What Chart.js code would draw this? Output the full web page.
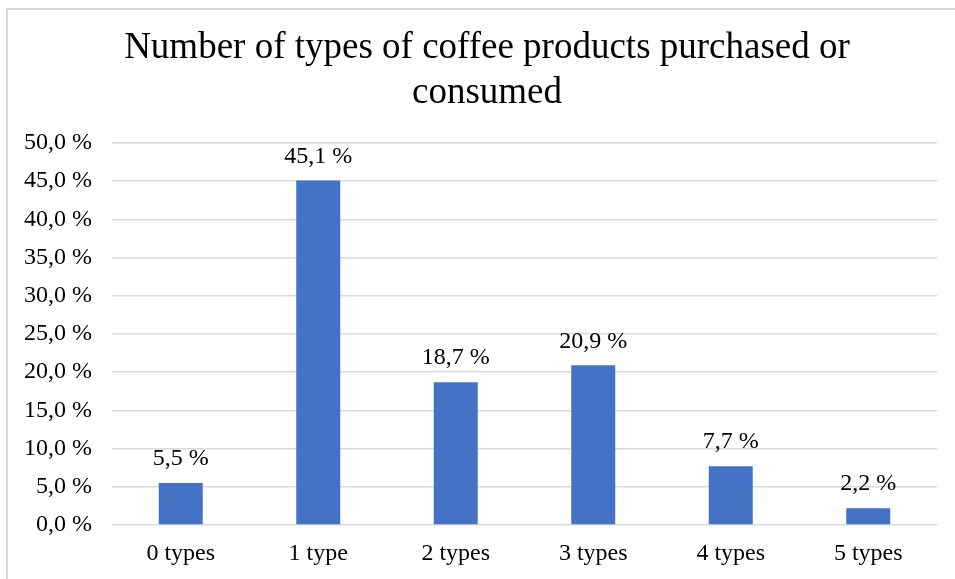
<!DOCTYPE html>
<html>
<head>
<meta charset="utf-8">
<script src="https://cdn.jsdelivr.net/npm/chart.js@4"></script>
<style>
  html, body { margin: 0; padding: 0; background: #fff; overflow: hidden; }
  #wrap { width: 955px; height: 579px; }
</style>
</head>
<body>
<div id="wrap"><canvas id="coffeeChart" width="955" height="579"></canvas></div>
<script>
// ================================
// DATA
// ================================

const categories = ["0 types", "1 type", "2 types", "3 types", "4 types", "5 types"];
const shares = [5.5, 45.1, 18.7, 20.9, 7.7, 2.2];
const titleLines = ["Number of types of coffee products purchased or", "consumed"];

const FONT = "'Liberation Serif', 'Times New Roman', serif";

const pct = v => v.toFixed(1).replace(".", ",") + " %";

// ================================
// PLUGINS
// ================================

// outer frame + title
const frameAndTitle = {
    id: "frameAndTitle",
    beforeDraw(chart) {
        const c = chart.ctx;
        c.save();
        c.fillStyle = "#fff";
        c.fillRect(0, 0, chart.width, chart.height);
        c.strokeStyle = "#d9d9d9";
        c.lineWidth = 2;
        c.beginPath();
        c.moveTo(7, chart.height);
        c.lineTo(7, 9);
        c.lineTo(chart.width, 9);
        c.stroke();
        c.fillStyle = "#000";
        c.font = "37px " + FONT;
        c.textAlign = "center";
        c.textBaseline = "middle";
        c.fillText(titleLines[0], 487, 48);
        c.fillText(titleLines[1], 487, 93);
        c.restore();
    }
};

// value labels above each bar
const valueLabels = {
    id: "valueLabels",
    afterDatasetsDraw(chart) {
        const c = chart.ctx;
        const meta = chart.getDatasetMeta(0);
        c.save();
        c.fillStyle = "#000";
        c.font = "24px " + FONT;
        c.textAlign = "center";
        c.textBaseline = "middle";
        meta.data.forEach((bar, i) => {
            c.fillText(pct(shares[i]), bar.x, bar.y - 24);
        });
        c.restore();
    }
};

// ================================
// CHART
// ================================

new Chart(document.getElementById("coffeeChart"), {
    type: "bar",
    data: {
        labels: categories,
        datasets: [{
            data: shares,
            backgroundColor: "#4472c4",
            borderWidth: 0,
            barPercentage: 0.32,
            categoryPercentage: 1
        }]
    },
    options: {
        responsive: false,
        animation: false,
        layout: {
            padding: { top: 143, right: 18, bottom: 0, left: 0 }
        },
        plugins: {
            legend: { display: false },
            title: { display: false },
            tooltip: { enabled: false }
        },
        scales: {
            x: {
                grid: { display: false, drawTicks: false },
                border: { display: false },
                ticks: {
                    color: "#000",
                    font: { family: FONT, size: 24 },
                    padding: 14
                },
                afterFit(scale) { scale.height = 54; }
            },
            y: {
                min: 0,
                max: 50,
                grid: { color: "#d9d9d9", lineWidth: 1.5, drawTicks: false },
                border: { display: false },
                ticks: {
                    stepSize: 5,
                    color: "#000",
                    font: { family: FONT, size: 24 },
                    padding: 20,
                    callback: v => pct(v)
                },
                afterFit(scale) { scale.width = 112; }
            }
        }
    },
    plugins: [frameAndTitle, valueLabels]
});
</script>
</body>
</html>
